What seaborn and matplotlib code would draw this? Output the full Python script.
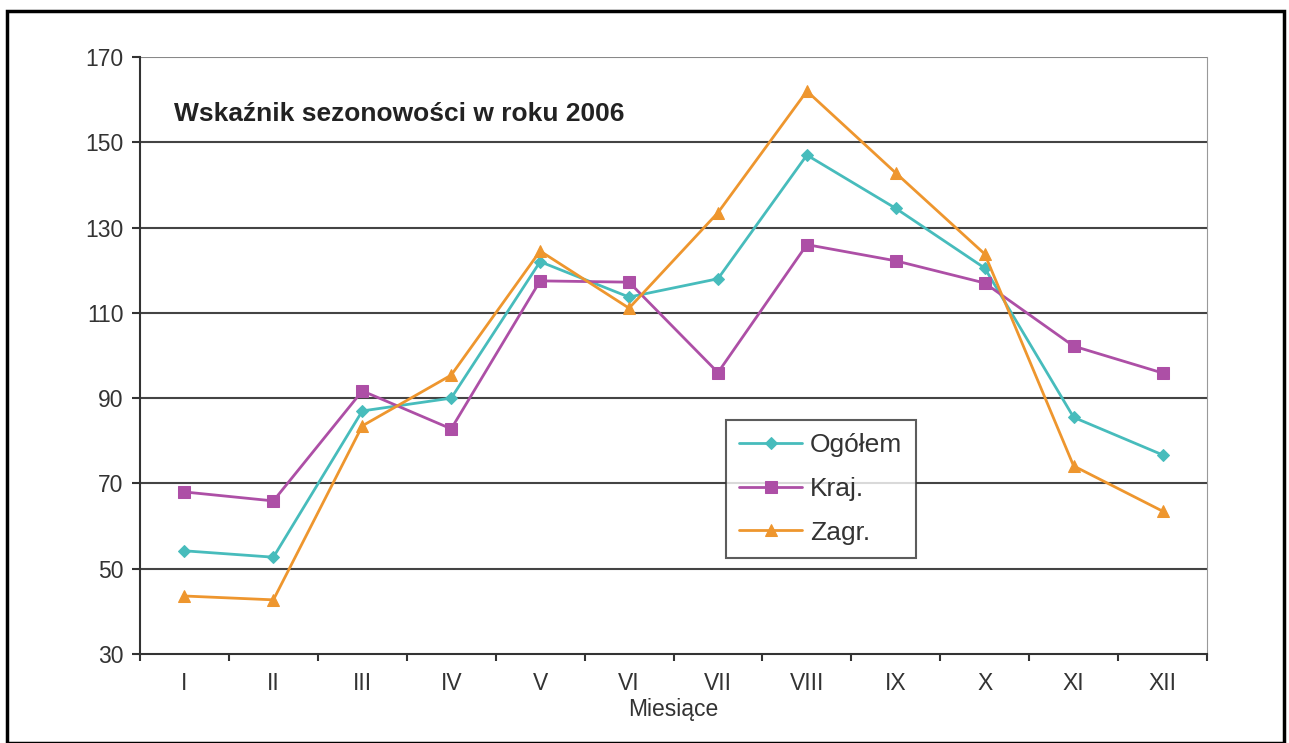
import matplotlib
matplotlib.use("Agg")
import matplotlib.pyplot as plt
import seaborn as sns
import pandas as pd
from matplotlib.patches import Rectangle

months = ["I", "II", "III", "IV", "V", "VI", "VII", "VIII", "IX", "X", "XI", "XII"]
ogolem = [54.2, 52.7, 87.0, 90.0, 122.0, 113.7, 118.0, 147.0, 134.5, 120.5, 85.5, 76.7]
kraj = [68.0, 65.9, 91.7, 82.8, 117.5, 117.2, 96.0, 126.0, 122.2, 117.0, 102.2, 95.9]
zagr = [43.6, 42.7, 83.5, 95.4, 124.5, 111.1, 133.5, 162.0, 142.8, 123.8, 74.1, 63.5]

series_names = ["Ogółem", "Kraj.", "Zagr."]
colors = ["#47BCBC", "#AD4FA6", "#EE962E"]
markers = ["D", "s", "^"]
msizes = [6, 8, 8]

df = pd.DataFrame({"Miesiące": months * 3,
                   "pos": list(range(12)) * 3,
                   "value": ogolem + kraj + zagr,
                   "series": [s for s in series_names for _ in months]})

sns.set_style("white")
plt.rcParams["font.family"] = ["Liberation Sans", "DejaVu Sans"]

fig = plt.figure(figsize=(12.89, 7.43), dpi=100)
ax = fig.add_axes([140 / 1289, 1 - 654 / 743, 1067 / 1289, 597 / 743])

for name, c, m, ms in zip(series_names, colors, markers, msizes):
    sub = df[df["series"] == name]
    sns.lineplot(data=sub, x="pos", y="value", ax=ax, color=c, marker=m,
                 markersize=ms, markeredgecolor=c, linewidth=2, label=name)

ax.set_xlim(-0.5, 11.5)
ax.set_ylim(30, 170)
ax.set_yticks(range(30, 171, 20))
ax.set_xticks(range(12))
ax.set_xticklabels(months)
ax.set_xticks([i - 0.5 for i in range(13)], minor=True)
ax.tick_params(bottom=True, left=True, which="both")
ax.tick_params(axis="x", which="major", length=0, pad=13, labelsize=16.5, labelcolor="#333333")
ax.tick_params(axis="x", which="minor", length=5, width=1.5, direction="out", color="#333333")
ax.tick_params(axis="y", length=6, width=1.5, direction="out", color="#333333", pad=6,
               labelsize=16.5, labelcolor="#333333")

for y in range(50, 171, 20):
    ax.axhline(y, color="#444444" if y < 170 else "#888888", linewidth=1.5, zorder=0)

for side in ["left", "bottom"]:
    ax.spines[side].set_color("#333333")
    ax.spines[side].set_linewidth(1.5)
ax.spines["right"].set_color("#999999")
ax.spines["top"].set_visible(False)

ax.set_xlabel("Miesiące", fontsize=16.5, color="#333333", labelpad=2)
ax.set_ylabel("")
ax.text(0.032, 0.905, "Wskaźnik sezonowości w roku 2006", transform=ax.transAxes,
        fontsize=19, fontweight="bold", color="#222222", va="center")

leg = ax.legend(loc="lower left", bbox_to_anchor=(0.549, 0.161), frameon=True,
                fancybox=False, edgecolor="#333333", fontsize=19, handlelength=2.4,
                handletextpad=0.3, borderpad=0.5, labelspacing=0.75, borderaxespad=0)
leg.get_frame().set_linewidth(1.5)
for t in leg.get_texts():
    t.set_color("#333333")

fig.patches.append(Rectangle((7 / 1289, 0), 1277 / 1289, 1 - 11 / 743, transform=fig.transFigure,
                             fill=False, edgecolor="black", linewidth=2.5))

fig.savefig("out.png", dpi=100)
